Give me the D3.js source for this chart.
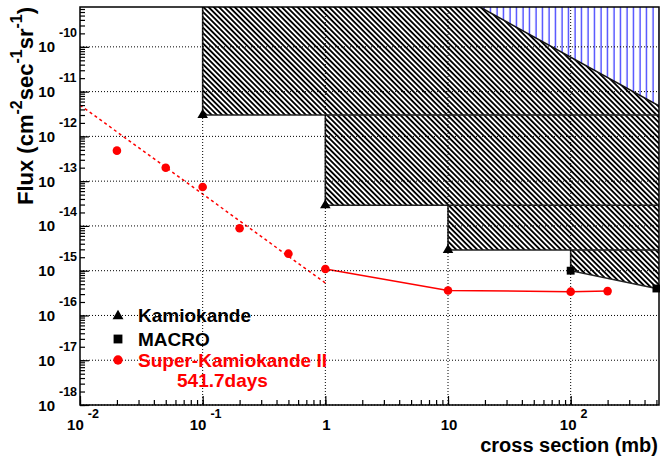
<!DOCTYPE html>
<html><head><meta charset="utf-8">
<script src="https://cdn.jsdelivr.net/npm/d3@7/dist/d3.min.js"></script>
<style>body{margin:0;background:#fff}svg{display:block}text{font-family:"Liberation Sans",Arial,Helvetica,sans-serif;font-weight:bold}</style>
</head><body>
<script>
// ---- data ----
const skSigma = [0.02, 0.05, 0.1, 0.2, 0.5, 1, 10, 100, 200];
const skFlux  = [4.8e-13, 2.0e-13, 7.4e-14, 8.9e-15, 2.4e-15, 1.09e-15, 3.6e-16, 3.4e-16, 3.5e-16];
const skLineSigma = [1, 10, 100, 200];
const skLineFlux  = [1.09e-15, 3.6e-16, 3.4e-16, 3.5e-16];
const dashSigma = [0.01, 1];
const dashFlux  = [5.0e-12, 5.3e-16];
const kamSigma = [0.1, 1, 10];
const kamFlux  = [3.0e-12, 2.9e-14, 2.9e-15];
const macroSigma = [100, 500];
const macroFlux  = [1.0e-15, 4.0e-16];
const blueSigma = [18.1, 524];
const blueFlux  = [7.8e-10, 4.8e-12];
const xTickVals = [0.01, 0.1, 1, 10, 100];
const xTickBase = ["10", "10", "1", "10", "10"];
const xTickExp  = ["-2", "-1", "", "", "2"];
const yTickExp  = [-10, -11, -12, -13, -14, -15, -16, -17, -18];
const legendLabels = ["Kamiokande", "MACRO", "Super-Kamiokande II", "541.7days"];

const W = 660, H = 457;
const L = 80, R = 659, T = 7, B = 405;
const xMax = Math.pow(10, 2.72), yMax = Math.pow(10, -9.11);
const x = d3.scaleLog().domain([0.01, xMax]).range([L, R]);
const y = d3.scaleLog().domain([1e-18, yMax]).range([B, T]);

const svg = d3.select("body").append("svg").attr("width", W).attr("height", H);
const defs = svg.append("defs");
defs.append("clipPath").attr("id", "clip").append("rect")
  .attr("x", L).attr("y", T).attr("width", R - L).attr("height", B - T);

const hp = defs.append("pattern").attr("id", "hatch").attr("patternUnits", "userSpaceOnUse")
  .attr("width", 3.7).attr("height", 3.7).attr("patternTransform", "rotate(-45)");
hp.append("line").attr("x1", 1.85).attr("y1", -1).attr("x2", 1.85).attr("y2", 5)
  .attr("stroke", "#000").attr("stroke-width", 1).attr("shape-rendering", "crispEdges");

const bp = defs.append("pattern").attr("id", "vhatch").attr("patternUnits", "userSpaceOnUse")
  .attr("width", 6.5).attr("height", 10);
bp.append("line").attr("x1", 3).attr("y1", 0).attr("x2", 3).attr("y2", 10)
  .attr("stroke", "#0000ff").attr("stroke-width", 1);

const plot = svg.append("g").attr("clip-path", "url(#clip)");
const line = d3.line().x(d => x(d[0])).y(d => y(d[1]));

// Kamiokande bands
const bandPolys = [];
const bandEdges = [];
let prevY = yMax * 2;
kamSigma.forEach((s, i) => {
  const f = kamFlux[i];
  bandPolys.push([[s, prevY], [s, f], [xMax * 2, f], [xMax * 2, prevY]]);
  bandEdges.push([[s, prevY], [s, f], [xMax * 2, f]]);
  prevY = f;
});
// MACRO band
const mSlope = Math.log10(macroFlux[1] / macroFlux[0]) / Math.log10(macroSigma[1] / macroSigma[0]);
const macroEnd = [xMax * 2, macroFlux[1] * Math.pow(xMax * 2 / macroSigma[1], mSlope)];
bandPolys.push([[macroSigma[0], prevY], [macroSigma[0], macroFlux[0]], [macroSigma[1], macroFlux[1]], macroEnd, [xMax * 2, prevY]]);
bandEdges.push([[macroSigma[0], prevY], [macroSigma[0], macroFlux[0]], [macroSigma[1], macroFlux[1]], macroEnd]);

bandPolys.forEach(p => plot.append("path").attr("d", line(p) + "Z").attr("fill", "url(#hatch)"));

// blue region
const bSlope = Math.log10(blueFlux[1] / blueFlux[0]) / Math.log10(blueSigma[1] / blueSigma[0]);
const bA = [blueSigma[0] / 2, blueFlux[0] * Math.pow(0.5, bSlope)];
const bB = [xMax * 2, blueFlux[1] * Math.pow(xMax * 2 / blueSigma[1], bSlope)];
const bluePoly = [bA, bB, [xMax * 2, yMax * 10], [bA[0], yMax * 10]];
plot.append("path").attr("d", line(bluePoly) + "Z").attr("fill", "#fff");
plot.append("path").attr("d", line(bluePoly) + "Z").attr("fill", "url(#vhatch)");

// edges
bandEdges.forEach(p => plot.append("path").attr("d", line(p)).attr("fill", "none")
  .attr("stroke", "#222").attr("stroke-width", 1.6));
plot.append("path").attr("d", line([bA, bB])).attr("fill", "none").attr("stroke", "#111").attr("stroke-width", 1.6);

// grid
const grid = svg.append("g");
[0.1, 1, 10, 100].forEach(v => grid.append("line").attr("x1", x(v)).attr("x2", x(v)).attr("y1", T).attr("y2", B)
  .attr("stroke", "#000").attr("stroke-width", 1).attr("stroke-dasharray", "1,2"));
yTickExp.forEach(e => grid.append("line").attr("x1", L).attr("x2", R).attr("y1", y(Math.pow(10, e))).attr("y2", y(Math.pow(10, e)))
  .attr("stroke", "#000").attr("stroke-width", 1).attr("stroke-dasharray", "1,2"));

// red lines
plot.append("path").attr("d", line(dashSigma.map((s, i) => [s, dashFlux[i]]))).attr("fill", "none")
  .attr("stroke", "#ff0000").attr("stroke-width", 1.5).attr("stroke-dasharray", "3,3");
plot.append("path").attr("d", line(skLineSigma.map((s, i) => [s, skLineFlux[i]]))).attr("fill", "none")
  .attr("stroke", "#ff0000").attr("stroke-width", 1.5);

// markers
const tri = d3.symbol().type(d3.symbolTriangle).size(48);
const sq = d3.symbol().type(d3.symbolSquare).size(62);
kamSigma.forEach((s, i) => svg.append("path").attr("d", tri()).attr("fill", "#000")
  .attr("transform", `translate(${x(s)},${y(kamFlux[i])})`));
macroSigma.forEach((s, i) => svg.append("path").attr("d", sq()).attr("fill", "#000")
  .attr("transform", `translate(${x(s)},${y(macroFlux[i])})`));
skSigma.forEach((s, i) => svg.append("circle").attr("cx", x(s)).attr("cy", y(skFlux[i])).attr("r", 4.3).attr("fill", "#ff0000"));

// axes
const minorY = d3.axisLeft(y).tickSizeInner(-5).tickSizeOuter(0).tickFormat("");
const majorY = d3.axisLeft(y).tickValues(yTickExp.map(e => Math.pow(10, e))).tickSizeInner(-9).tickSizeOuter(0).tickFormat("");
const minorX = d3.axisBottom(x).tickSizeInner(-5).tickSizeOuter(0).tickFormat("");
const majorX = d3.axisBottom(x).tickValues(xTickVals).tickSizeInner(-9).tickSizeOuter(0).tickFormat("");
[minorY, majorY].forEach(a => svg.append("g").attr("transform", `translate(${L},0)`).call(a));
[minorX, majorX].forEach(a => svg.append("g").attr("transform", `translate(0,${B})`).call(a));
svg.selectAll(".tick line").attr("stroke", "#000").attr("stroke-width", 1.2);
svg.selectAll(".domain").remove();
svg.append("rect").attr("x", L).attr("y", T).attr("width", R - L).attr("height", B - T)
  .attr("fill", "none").attr("stroke", "#000").attr("stroke-width", 1.5);

// y tick labels
yTickExp.forEach(e => {
  const yy = y(Math.pow(10, e));
  svg.append("text").attr("x", 55).attr("y", yy + 5.5).attr("text-anchor", "end").attr("font-size", 15).text("10");
  svg.append("text").attr("x", 59).attr("y", yy - 9.5).attr("font-size", 12.5).text(String(e));
});
// x tick labels (base + separate exponent, composite centred near tick)
xTickVals.forEach((v, i) => {
  const b = svg.append("text").attr("y", 430).attr("font-size", 15).text(xTickBase[i]);
  const bw = b.node().getComputedTextLength();
  let ew = 0, e = null;
  if (xTickExp[i]) {
    e = svg.append("text").attr("y", 418).attr("font-size", 12.5).text(xTickExp[i]);
    ew = e.node().getComputedTextLength() + 4;
  }
  const x0 = x(v) + (xTickExp[i] ? 3 : 1) - (bw + ew) / 2;
  b.attr("x", x0);
  if (e) e.attr("x", x0 + bw + 4);
});

// axis titles
svg.append("text").attr("x", 658).attr("y", 452).attr("text-anchor", "end").attr("font-size", 20).text("cross section (mb)");
const yt = svg.append("text").attr("transform", "translate(33,7) rotate(-90)").attr("text-anchor", "end").attr("font-size", 22);
yt.append("tspan").text("Flux (cm");
yt.append("tspan").attr("dy", -11).attr("font-size", 16).text("-2");
yt.append("tspan").attr("dy", 11).text("sec");
yt.append("tspan").attr("dy", -11).attr("font-size", 16).text("-1");
yt.append("tspan").attr("dy", 11).text("sr");
yt.append("tspan").attr("dy", -11).attr("font-size", 16).text("-1");
yt.append("tspan").attr("dy", 11).text(")");

// legend
const lg = svg.append("g");
lg.append("path").attr("d", d3.symbol().type(d3.symbolTriangle).size(52)()).attr("transform", "translate(118,316)").attr("fill", "#000");
lg.append("path").attr("d", d3.symbol().type(d3.symbolSquare).size(78)()).attr("transform", "translate(118,339)").attr("fill", "#000");
lg.append("circle").attr("cx", 118).attr("cy", 360).attr("r", 4.7).attr("fill", "#ff0000");
lg.append("text").attr("x", 138).attr("y", 322).attr("font-size", 19).attr("fill", "#000").text(legendLabels[0]);
lg.append("text").attr("x", 138).attr("y", 346).attr("font-size", 19).attr("fill", "#000").text(legendLabels[1]);
lg.append("text").attr("x", 138).attr("y", 367).attr("font-size", 19).attr("fill", "#ff0000").text(legendLabels[2]);
lg.append("text").attr("x", 177).attr("y", 387).attr("font-size", 19).attr("fill", "#ff0000").text(legendLabels[3]);
</script>
</body></html>
